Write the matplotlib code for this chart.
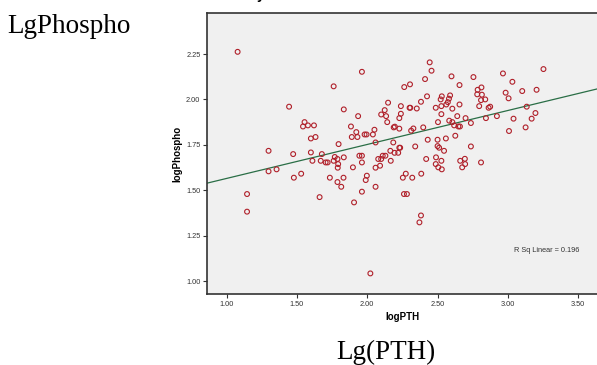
import matplotlib
matplotlib.use("Agg")
from matplotlib import pyplot as plt

# data (logPTH, logPhospho)
log_pth = [1.078, 1.145, 1.145, 1.298, 1.298, 1.355, 1.444, 1.473, 1.478, 1.530,
           1.543, 1.554, 1.578, 1.621, 1.599, 1.632, 1.599, 1.610, 1.677, 1.669,
           1.704, 1.718, 1.661, 1.734, 1.761, 1.761, 1.769, 1.796, 1.788, 1.793,
           1.790, 1.833, 1.788, 1.815, 1.831, 1.833, 1.884, 1.890, 1.906, 1.898,
           1.922, 1.930, 1.935, 1.962, 1.944, 1.962, 1.962, 1.962, 1.981, 1.995,
           2.040, 2.051, 2.059, 1.989, 1.997, 2.022, 2.059, 2.059, 2.078, 2.091,
           2.099, 2.110, 2.129, 2.099, 2.124, 2.134, 2.142, 2.148, 2.164, 2.167,
           2.185, 2.188, 2.196, 2.194, 2.220, 2.228, 2.234, 2.228, 2.228, 2.239,
           2.239, 2.263, 2.304, 2.301, 2.306, 2.312, 2.328, 2.352, 2.341, 2.253,
           2.274, 2.320, 2.261, 2.282, 2.384, 2.382, 2.371, 2.382, 2.398, 2.411,
           2.425, 2.430, 2.419, 2.444, 2.457, 2.487, 2.489, 2.487, 2.500, 2.503,
           2.500, 2.511, 2.505, 2.527, 2.530, 2.527, 2.522, 2.530, 2.527, 2.546,
           2.559, 2.562, 2.573, 2.581, 2.589, 2.599, 2.583, 2.605, 2.605, 2.618,
           2.626, 2.640, 2.648, 2.659, 2.656, 2.656, 2.661, 2.675, 2.694, 2.696,
           2.699, 2.737, 2.737, 2.755, 2.782, 2.785, 2.796, 2.809, 2.812, 2.815,
           2.809, 2.839, 2.844, 2.863, 2.874, 2.922, 2.965, 2.984, 3.005, 3.008,
           3.032, 3.040, 3.102, 3.126, 3.134, 3.169, 3.196, 3.204, 3.253]
log_phospho = [2.262, 1.479, 1.382, 1.717, 1.604, 1.615, 1.960, 1.699, 1.569, 1.591,
               1.851, 1.875, 1.857, 1.857, 1.785, 1.793, 1.708, 1.662, 1.699, 1.662,
               1.653, 1.653, 1.462, 1.569, 2.072, 1.662, 1.683, 1.754, 1.672, 1.644,
               1.624, 1.681, 1.545, 1.519, 1.569, 1.945, 1.851, 1.793, 1.433, 1.626,
               1.820, 1.793, 1.908, 2.152, 1.690, 1.690, 1.653, 1.492, 1.807, 1.807,
               1.807, 1.833, 1.763, 1.556, 1.580, 1.042, 1.519, 1.624, 1.672, 1.635,
               1.672, 1.690, 1.690, 1.917, 1.941, 1.908, 1.875, 1.982, 1.717, 1.662,
               1.763, 1.846, 1.850, 1.706, 1.706, 1.734, 1.734, 1.839, 1.897, 1.921,
               1.963, 2.068, 2.083, 1.954, 1.954, 1.828, 1.840, 1.950, 1.741, 1.569,
               1.591, 1.569, 1.479, 1.479, 1.591, 1.361, 1.323, 1.987, 1.846, 2.112,
               2.017, 1.778, 1.672, 2.204, 2.158, 1.954, 1.681, 1.644, 1.778, 1.875,
               1.743, 1.734, 1.626, 1.662, 1.615, 1.919, 2.000, 2.017, 1.963, 1.717,
               1.785, 1.972, 1.985, 2.004, 2.022, 2.127, 1.883, 1.875, 1.949, 1.857,
               1.800, 1.908, 1.851, 1.851, 1.972, 2.079, 1.662, 1.626, 1.673, 1.644,
               1.897, 1.870, 1.741, 2.123, 2.028, 2.053, 1.963, 1.996, 2.066, 2.026,
               1.653, 2.000, 1.897, 1.954, 1.960, 1.908, 2.143, 2.037, 2.006, 1.826,
               2.097, 1.894, 2.046, 1.846, 1.960, 1.894, 1.925, 2.053, 2.167]

# linear fit as drawn in the picture
fit_intercept = 1.378
fit_slope = 0.187
r_sq = 0.196

x_ticks = [1.00, 1.50, 2.00, 2.50, 3.00, 3.50]
y_ticks = [1.00, 1.25, 1.50, 1.75, 2.00, 2.25]

fig = plt.figure(figsize=(5.97, 3.65), dpi=100)
fig.patch.set_facecolor("white")
ax = fig.add_axes([0.3462, 0.1937, 0.6555, 0.7713])
ax.set_facecolor("#f0f0f0")

ax.scatter(log_pth, log_phospho, s=12, facecolors="none", edgecolors="#b0202a",
           linewidths=0.8, zorder=3)
ax.axline((0, fit_intercept), slope=fit_slope, color="#2a6e46", linewidth=0.9, zorder=2)

ax.set_xlim(0.858, 3.641)
ax.set_ylim(0.927, 2.477)
ax.set_xticks(x_ticks)
ax.set_yticks(y_ticks)
ax.set_xticklabels(["%.2f" % v for v in x_ticks])
ax.set_yticklabels(["%.2f" % v for v in y_ticks])
ax.tick_params(direction="out", length=3, width=0.8, labelsize=5.3,
               labelcolor="#333333", color="#333333", pad=1.5)
for label in ax.get_xticklabels() + ax.get_yticklabels():
    label.set_family("Liberation Sans")

for side in ["left", "bottom", "top", "right"]:
    ax.spines[side].set_color("#333333")
    ax.spines[side].set_linewidth(1.2)

ax.set_xlabel("logPTH", fontsize=7, fontweight="bold", family="Liberation Sans", labelpad=3)
ax.set_ylabel("logPhospho", fontsize=7, fontweight="bold", family="Liberation Sans", labelpad=3)

ax.text(3.043, 1.167, "R Sq Linear = %.3f" % r_sq, fontsize=5.3, family="Liberation Sans",
        color="#333333", va="center", ha="left")

# labels around the chart
fig.text(7 / 597, 1 - 33 / 365, "LgPhospho", fontsize=19.5, family="Liberation Serif",
         va="baseline", ha="left")
fig.text(386 / 597, 1 - 359 / 365, "Lg(PTH)", fontsize=19.5, family="Liberation Serif",
         va="baseline", ha="center")
# title of the chart, cut off at the top edge like in the reference
fig.text(261 / 597, 1 + 0.5 / 365, "y", fontsize=10, fontweight="bold",
         family="Liberation Sans", va="baseline", ha="center")

fig.savefig("out.png", dpi=100)
